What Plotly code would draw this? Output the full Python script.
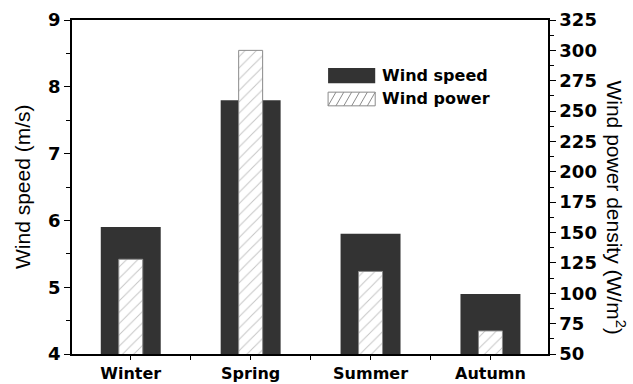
import plotly.graph_objects as go

# Seasonal wind data
seasons = ["Winter", "Spring", "Summer", "Autumn"]
wind_speed = [5.9, 7.8, 5.8, 4.9]          # m/s (left axis)
wind_power = [128, 300, 118, 69]           # W/m^2 (right axis)

speed_ticks = [4, 5, 6, 7, 8, 9]
power_ticks = list(range(50, 326, 25))

DARK = "#333333"
HATCH = "#8a8a8a"
FONT = "Liberation Sans"
BOLD = "DejaVu Sans"

fig = go.Figure()

fig.add_trace(go.Bar(
    x=seasons, y=wind_speed, name="Wind speed",
    width=0.5, marker=dict(color=DARK, line=dict(width=0)),
    yaxis="y", showlegend=False,
))
fig.add_trace(go.Bar(
    x=seasons, y=wind_power, name="Wind power",
    width=0.2,
    marker=dict(
        color="white",
        line=dict(color=HATCH, width=1),
        pattern=dict(shape="/", size=8, solidity=0.12,
                     fgcolor=HATCH, bgcolor="white"),
    ),
    yaxis="y2", showlegend=False,
))

tick_style = dict(ticks="outside", ticklen=6, tickwidth=1.3, tickcolor="black")
minor_style = dict(ticks="outside", ticklen=4, tickwidth=1.3, tickcolor="black")

fig.update_layout(
    width=633, height=384,
    margin=dict(l=72, r=85, t=20, b=30, autoexpand=False),
    paper_bgcolor="white", plot_bgcolor="white",
    barmode="overlay",
    showlegend=False,
    xaxis=dict(
        range=[-0.49, 3.48], automargin=False,
        showline=True, linecolor="black", linewidth=1.5, mirror=True,
        ticks="outside", ticklen=4, tickwidth=1.3, tickcolor="black",
        minor=dict(**minor_style, tickvals=[-0.5, 0.5, 1.5, 2.5, 3.5]),
        tickfont=dict(family=BOLD, size=16, color="black", weight="bold"),
        ticklabelstandoff=0,
        showgrid=False, zeroline=False,
    ),
    yaxis=dict(
        range=[4, 9], tickvals=speed_ticks, automargin=False,
        showline=True, linecolor="black", linewidth=1.5,
        **tick_style,
        minor=dict(**minor_style, dtick=0.5),
        tickfont=dict(family=BOLD, size=18, color="black", weight=900),
        showgrid=False, zeroline=False,
    ),
    yaxis2=dict(
        range=[50, 325], tickvals=power_ticks, automargin=False,
        overlaying="y", side="right",
        showline=True, linecolor="black", linewidth=1.5,
        **tick_style,
        minor=dict(**minor_style, dtick=12.5),
        tickfont=dict(family=BOLD, size=18, color="black", weight=900),
        showgrid=False, zeroline=False,
    ),
)

# Axis titles
title_font = dict(family=FONT, size=21, color="black")
fig.add_annotation(text="Wind speed (m/s)", xref="paper", yref="paper",
                   x=-0.105, y=0.5, textangle=-90, showarrow=False,
                   font=title_font, xanchor="center", yanchor="middle")
fig.add_annotation(text="Wind power density (W/m<sup>2</sup>)",
                   xref="paper", yref="paper",
                   x=1.142, y=0.44, textangle=90, showarrow=False,
                   font=title_font, xanchor="center", yanchor="middle")

# Legend: swatches + labels
sw_x0, sw_x1 = 0.538, 0.637
rows = [(0.811, 0.856, "Wind speed", True), (0.743, 0.784, "Wind power", False)]
for y0, y1, label, solid in rows:
    if solid:
        fig.add_shape(type="rect", xref="paper", yref="paper",
                      x0=sw_x0, x1=sw_x1, y0=y0, y1=y1,
                      fillcolor=DARK, line=dict(width=0))
    else:
        fig.add_shape(type="rect", xref="paper", yref="paper",
                      x0=sw_x0, x1=sw_x1, y0=y0, y1=y1,
                      fillcolor="white", line=dict(color=HATCH, width=1))
        # diagonal hatch lines inside the swatch
        n = 6
        dx = (sw_x1 - sw_x0) / n
        segs = [f"M{sw_x0 + i*dx:.4f},{y0:.4f} L{sw_x0 + (i+1)*dx:.4f},{y1:.4f}"
                for i in range(n)]
        fig.add_shape(type="path", xref="paper", yref="paper",
                      path=" ".join(segs), line=dict(color=HATCH, width=1))
    fig.add_annotation(text=label, xref="paper", yref="paper",
                       x=sw_x1 + 0.01, y=(y0 + y1) / 2, showarrow=False,
                       xanchor="left", yanchor="middle",
                       font=dict(family=BOLD, size=16, color="black", weight="bold"))

fig.write_html("out.html")
